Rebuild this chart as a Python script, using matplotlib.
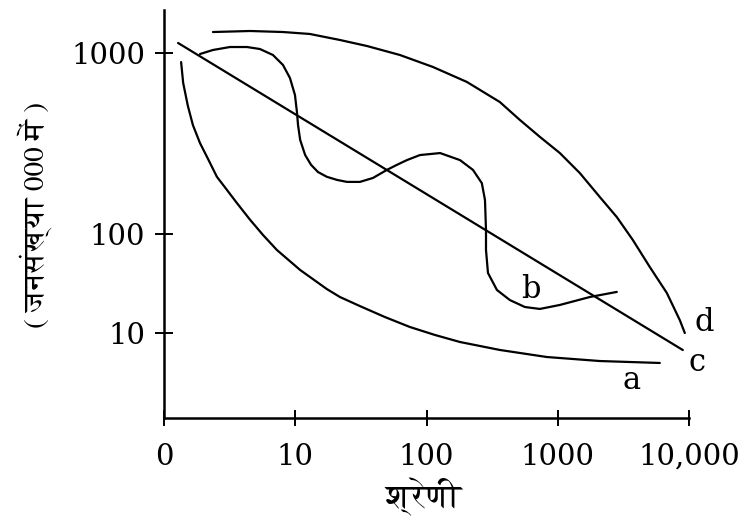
import numpy as np
import matplotlib
matplotlib.use("Agg")
import matplotlib.pyplot as plt
from matplotlib import font_manager
from matplotlib.ft2font import FT2Font

# curve a - primate pattern
rank_a = [1.35, 1.40, 1.52, 1.66, 1.88, 2.13, 2.53, 3.02, 3.60, 4.52, 5.68, 7.25, 10.9, 17.4,
          21.9, 31.1, 48.2, 74.7, 116, 180, 362, 826, 2093, 5993]
pop_a = [891, 683, 510, 400, 318, 266, 207, 175, 148, 120, 97.7, 68.9, 43.3, 27.8,
         23.1, 18.7, 14.5, 11.5, 9.55, 8.11, 6.74, 5.72, 5.21, 4.98]

# curve b - stepped pattern
rank_b = [1.88, 2.36, 3.18, 4.29, 5.38, 6.76, 8.06, 9.11, 9.95, 10.3, 10.5, 10.9, 11.9, 13.2, 14.9,
          17.4, 20.8, 24.8, 31.1, 39.1, 49.9, 59.5, 70.9, 89.1, 127, 180, 226, 264, 279, 284, 284,
          294, 344, 432, 562, 731, 1038, 1756, 2819]
pop_b = [987, 1039, 1079, 1079, 1052, 975, 859, 728, 586, 472, 400, 331, 273, 241, 220,
         207, 199, 194, 194, 204, 226, 241, 256, 273, 280, 256, 226, 191, 154, 105, 68.9,
         40.4, 27.2, 21.5, 18.3, 17.5, 19.2, 23.1, 26.0]

# curve c - rank-size rule
rank_c = [1.28, 8971]
pop_c = [1136, 6.73]

# curve d - convex pattern
rank_d = [2.36, 4.52, 8.06, 12.9, 21.9, 35.2, 62.7, 112, 203, 362, 514, 731, 1038, 1474,
          2093, 2819, 3733, 5028, 6774, 8509, 9290]
pop_d = [1306, 1323, 1306, 1274, 1180, 1093, 975, 837, 692, 536, 427, 344, 280, 217,
         160, 124, 87.0, 46.4, 25.4, 13.5, 10]

x_ticks = [1, 10, 100, 1000, 10000]
x_tick_labels = ["0", "10", "100", "1000", "10,000"]
y_ticks = [10, 100, 1000]
y_tick_labels = ["10", "100", "1000"]

# the original drawing has unequal decades on the y axis
knots_log = [0, 1, 2, 3, 4]
knots_h = [-14, 85, 184, 365, 546]


def fwd(v):
    v = np.clip(np.asarray(v, dtype=float), 1e-6, None)
    return np.interp(np.log10(v), knots_log, knots_h)


def inv(h):
    return 10 ** np.interp(np.asarray(h, dtype=float), knots_h, knots_log)


def find_font(ch):
    found = []
    for f in font_manager.fontManager.ttflist:
        try:
            if ord(ch) in FT2Font(f.fname).get_charmap():
                found.append(f.name)
        except Exception:
            pass
    prefs = ["FreeSerif", "Noto Serif Devanagari", "Lohit Devanagari", "Noto Sans Devanagari",
             "Gargi", "Kalimati", "Mukta", "Hind", "FreeSans"]
    for p in prefs:
        if p in found:
            return p
    rest = [n for n in found if "Mono" not in n]
    if rest:
        return rest[0]
    return found[0] if found else None


deva = find_font("ज")
deva_family = [deva, "DejaVu Serif"] if deva else ["DejaVu Serif"]

plt.rcParams["font.family"] = "DejaVu Serif"

fig = plt.figure(figsize=(7.56, 5.26), dpi=100)
ax = fig.add_axes([164 / 756, 1 - 418 / 526, (689 - 164) / 756, 408 / 526])

ax.set_xscale("log")
ax.set_yscale("function", functions=(fwd, inv))
ax.set_xlim(1, 10000)
ax.set_ylim(inv(0), inv(408))

lw = 1.6
for r, p in [(rank_a, pop_a), (rank_b, pop_b), (rank_c, pop_c), (rank_d, pop_d)]:
    ax.plot(r, p, color="black", lw=lw, solid_capstyle="round", solid_joinstyle="round")

for s in ["top", "right"]:
    ax.spines[s].set_visible(False)
for s in ["left", "bottom"]:
    ax.spines[s].set_linewidth(1.8)

ax.set_xticks(x_ticks)
ax.set_xticklabels(x_tick_labels)
ax.xaxis.set_minor_locator(matplotlib.ticker.NullLocator())
ax.set_yticks(y_ticks)
ax.set_yticklabels(y_tick_labels)
ax.yaxis.set_minor_locator(matplotlib.ticker.NullLocator())
ax.tick_params(axis="x", direction="inout", length=12, width=1.4, pad=12, labelsize=21)
ax.tick_params(axis="y", direction="inout", length=13, width=1.4, pad=7, labelsize=21)

lbl = dict(fontsize=22, ha="center", va="center", clip_on=False)
ax.text(3666, 3.35, "a", **lbl)
ax.text(624, 27.2, "b", **lbl)
ax.text(11460, 4.98, "c", **lbl)
ax.text(12970, 12.9, "d", **lbl)

fig.text(424 / 756, 1 - 497 / 526, "श्रेणी", family=deva_family, fontsize=24, ha="center", va="center")
fig.text(35 / 756, 1 - 215 / 526, "( जनसंख्या 000 में )", family=deva_family, fontsize=21,
         rotation=90, ha="center", va="center")

fig.savefig("out.png", dpi=100, facecolor="white")
